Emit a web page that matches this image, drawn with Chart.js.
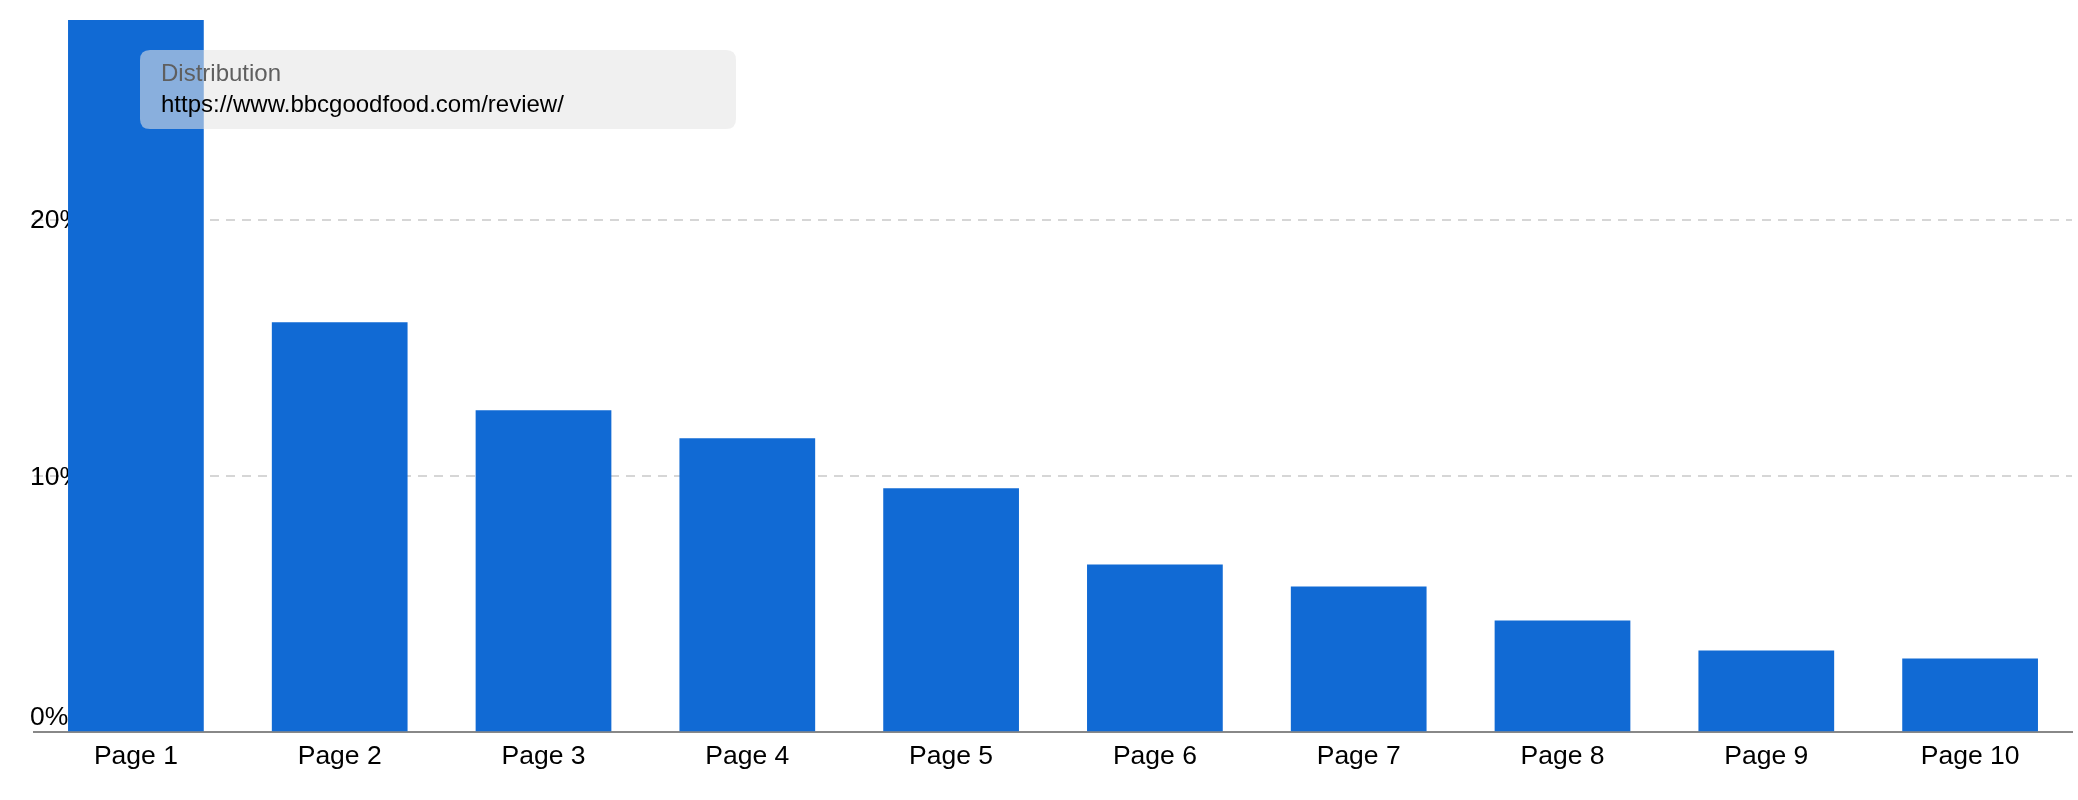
<!DOCTYPE html>
<html>
<head>
<meta charset="utf-8">
<script src="https://cdn.jsdelivr.net/npm/chart.js@4.4.1/dist/chart.umd.min.js"></script>
<style>
  html, body { margin: 0; padding: 0; background: #ffffff; }
  #wrap { width: 2078px; height: 800px; position: relative; }
</style>
</head>
<body>
<div id="wrap"><canvas id="c" width="2078" height="800"></canvas></div>
<script>
const categories = ['Page 1', 'Page 2', 'Page 3', 'Page 4', 'Page 5', 'Page 6', 'Page 7', 'Page 8', 'Page 9', 'Page 10'];
const distribution = [27.8, 16.0, 12.57, 11.47, 9.52, 6.55, 5.69, 4.36, 3.19, 2.88];
const yTickValues = [0, 10, 20];
const yTickLabels = ['0%', '10%', '20%'];
const seriesName = 'Distribution';
const seriesUrl = 'https://www.bbcgoodfood.com/review/';

const FONT = '"Liberation Sans", Arial, sans-serif';

const yLabelPlugin = {
  id: 'yLabels',
  beforeDatasetsDraw(chart) {
    const ctx = chart.ctx;
    const y = chart.scales.y;
    ctx.save();
    ctx.font = '26.5px ' + FONT;
    ctx.fillStyle = '#000000';
    ctx.textAlign = 'left';
    ctx.textBaseline = 'alphabetic';
    yTickValues.forEach((v, i) => {
      const py = y.getPixelForValue(v);
      const base = v === 0 ? py - 7 : py + 8.5;
      ctx.fillText(yTickLabels[i], 30, base);
    });
    ctx.restore();
  }
};

const infoBoxPlugin = {
  id: 'infoBox',
  afterDatasetsDraw(chart) {
    const ctx = chart.ctx;
    ctx.save();
    const x = 140, yy = 50, w = 596, h = 79, r = 10;
    ctx.beginPath();
    ctx.moveTo(x + r, yy);
    ctx.lineTo(x + w - r, yy);
    ctx.quadraticCurveTo(x + w, yy, x + w, yy + r);
    ctx.lineTo(x + w, yy + h - r);
    ctx.quadraticCurveTo(x + w, yy + h, x + w - r, yy + h);
    ctx.lineTo(x + r, yy + h);
    ctx.quadraticCurveTo(x, yy + h, x, yy + h - r);
    ctx.lineTo(x, yy + r);
    ctx.quadraticCurveTo(x, yy, x + r, yy);
    ctx.closePath();
    ctx.fillStyle = 'rgba(229,229,229,0.57)';
    ctx.fill();
    ctx.font = '24px ' + FONT;
    ctx.textAlign = 'left';
    ctx.textBaseline = 'alphabetic';
    ctx.fillStyle = '#5f5f5f';
    ctx.fillText(seriesName, 161, 81);
    ctx.fillStyle = '#000000';
    ctx.fillText(seriesUrl, 161, 112);
    ctx.restore();
  }
};

new Chart(document.getElementById('c'), {
  type: 'bar',
  data: {
    labels: categories,
    datasets: [{
      label: seriesName,
      data: distribution,
      backgroundColor: '#116ad4',
      borderWidth: 0,
      barPercentage: 0.666,
      categoryPercentage: 1.0,
      clip: 0
    }]
  },
  options: {
    responsive: false,
    animation: false,
    devicePixelRatio: 1,
    layout: { padding: { left: 34, right: 6, top: 20, bottom: 18 } },
    plugins: {
      legend: { display: false },
      tooltip: { enabled: false }
    },
    scales: {
      x: {
        offset: true,
        grid: { display: false, drawTicks: false },
        border: { display: true, color: '#888888', width: 2 },
        ticks: {
          color: '#000000',
          font: { family: FONT, size: 26.5 },
          padding: 9,
          maxRotation: 0,
          autoSkip: false
        }
      },
      y: {
        min: 0,
        max: Math.max(...distribution),
        afterBuildTicks(scale) {
          scale.ticks = yTickValues.map(v => ({ value: v }));
        },
        ticks: { display: false },
        grid: {
          drawTicks: false,
          lineWidth: 2,
          color: (c) => (c.tick && c.tick.value === 0) ? 'rgba(0,0,0,0)' : '#d6d6d6'
        },
        border: { display: false, dash: [9, 7] }
      }
    }
  },
  plugins: [yLabelPlugin, infoBoxPlugin]
});
</script>
</body>
</html>
